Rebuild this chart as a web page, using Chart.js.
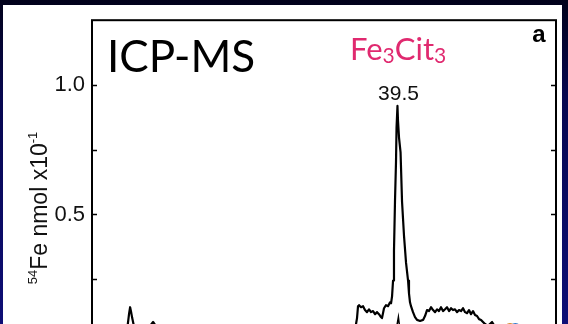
<!DOCTYPE html>
<html>
<head>
<meta charset="utf-8">
<script src="https://cdn.jsdelivr.net/npm/chart.js@4/dist/chart.umd.min.js"></script>
<style>
  html, body { margin: 0; padding: 0; width: 568px; height: 324px; overflow: hidden; }
  body { background: linear-gradient(to bottom, #01011a 0%, #070750 30%, #0e0e76 100%); position: relative; }
  #sheet { position: absolute; left: 3px; top: 5px; width: 559px; height: 400px; background: #ffffff; }
  #wrap { position: absolute; left: 0; top: 0; width: 568px; height: 380px; }
</style>
</head>
<body>
<div id="sheet"></div>
<div id="wrap"><canvas id="chart" width="568" height="380"></canvas></div>
<script>
// Elution time (min) and 54Fe signal (nmol x10^-1) for the ICP-MS trace
const traceTime = [
  0, 1.5, 3.0, 4.2, 4.6, 4.8, 4.93, 5.05, 5.2, 5.4, 5.8, 6.5, 7.2, 7.6, 7.9, 8.2, 8.8,
  10, 12, 14, 17, 20, 23, 26, 29, 31, 33,
  34.01, 34.27, 34.40, 34.53, 34.79, 35.05, 35.30, 35.56, 35.82, 36.08, 36.34, 36.60,
  36.86, 37.11, 37.37, 37.50, 37.76, 38.02, 38.28, 38.54, 38.67, 38.80, 38.93, 39.05,
  39.18, 39.31, 39.38, 39.5, 39.57, 39.70, 39.90, 40.09, 40.35, 40.61, 40.87, 40.99,
  41.12, 41.25, 41.51, 41.77, 42.03, 42.42, 42.81, 43.06, 43.32, 43.58, 43.84, 44.10,
  44.36, 44.62, 44.87, 45.13, 45.39, 45.65, 45.91, 46.17, 46.43, 46.68, 46.94, 47.20,
  47.46, 47.72, 47.98, 48.24, 48.50, 48.75, 49.01, 49.27, 49.53, 49.79, 50.05, 50.31,
  50.56, 50.82, 51.21, 51.73, 52.12, 52.76, 54, 56, 58, 60
];
const traceFe = [
  0.040, 0.042, 0.045, 0.050, 0.070, 0.118, 0.142, 0.125, 0.100, 0.072, 0.060, 0.058, 0.064, 0.074, 0.085, 0.072, 0.062,
  0.055, 0.050, 0.052, 0.048, 0.050, 0.047, 0.049, 0.046, 0.048, 0.050,
  0.054, 0.100, 0.146, 0.150, 0.142, 0.146, 0.131, 0.123, 0.134, 0.123, 0.127, 0.115,
  0.123, 0.115, 0.104, 0.100, 0.138, 0.150, 0.146, 0.161, 0.157, 0.184, 0.245, 0.359,
  0.550, 0.702, 0.835, 0.919, 0.862, 0.797, 0.740, 0.550, 0.416, 0.313, 0.245, 0.195,
  0.161, 0.146, 0.123, 0.104, 0.093, 0.089, 0.093, 0.108, 0.131, 0.127, 0.142, 0.131,
  0.123, 0.134, 0.127, 0.142, 0.127, 0.134, 0.142, 0.127, 0.138, 0.131, 0.134, 0.123,
  0.131, 0.127, 0.138, 0.123, 0.119, 0.131, 0.115, 0.127, 0.112, 0.108, 0.096, 0.093,
  0.085, 0.077, 0.070, 0.085, 0.066, 0.054, 0.048, 0.045, 0.044, 0.043
];
// Second, weaker trace whose apex just reaches the lower edge
const secondTime = [36.0, 38.5, 39.2, 39.45, 39.62, 39.8, 40.2, 41.0, 44.0];
const secondFe   = [0.020, 0.025, 0.040, 0.075, 0.104, 0.060, 0.035, 0.025, 0.020];
// Coloured markers near the bottom right
const markerTime = [54.05, 54.75];
const markerFe   = [0.058, 0.058];
const markerColors = ['#d8892c', '#2f78c8'];

// Axis settings
const yMin = 0, yMax = 1.25, yStep = 0.25;
const yLabelled = [0.5, 1.0];
const xMin = 0, xMax = 60;
const peakTime = 39.5;
const peakLabel = '39.5';

const toXY = (ts, vs) => ts.map((t, i) => ({ x: t, y: vs[i] }));
const peakValue = traceFe[traceTime.indexOf(peakTime)];

const sansFont = '"Liberation Sans", Arial, Helvetica, sans-serif';
const gillFont = 'Lato, "Open Sans", sans-serif';

// Frame, inward tick marks and all annotation text
const decorations = {
  id: 'decorations',
  afterDraw(chart) {
    const { ctx, chartArea: a, scales: { x, y } } = chart;
    ctx.save();
    // frame
    ctx.strokeStyle = '#000';
    ctx.lineWidth = 2;
    ctx.strokeRect(a.left, a.top, a.right - a.left, a.bottom - a.top);
    // inward ticks on both sides
    ctx.lineWidth = 1.5;
    for (let v = yMin + yStep; v < yMax - 1e-9; v += yStep) {
      const py = Math.round(y.getPixelForValue(v)) + 0.5;
      ctx.beginPath();
      ctx.moveTo(a.left, py); ctx.lineTo(a.left + 5, py);
      ctx.moveTo(a.right, py); ctx.lineTo(a.right - 5, py);
      ctx.stroke();
    }

    // y axis title: 54Fe nmol x10-1, rotated
    const titleParts = [
      { t: '54', size: 13, rise: 10 },
      { t: 'Fe nmol x10', size: 23, rise: 0 },
      { t: '-1', size: 13, rise: 10 }
    ];
    let total = 0;
    titleParts.forEach(p => { ctx.font = p.size + 'px ' + sansFont; p.w = ctx.measureText(p.t).width; total += p.w; });
    ctx.translate(47, 208);
    ctx.rotate(-Math.PI / 2);
    ctx.fillStyle = '#111';
    ctx.textBaseline = 'alphabetic';
    ctx.textAlign = 'left';
    let cx = -total / 2;
    titleParts.forEach(p => {
      ctx.font = p.size + 'px ' + sansFont;
      ctx.fillText(p.t, cx, -p.rise);
      cx += p.w;
    });
    ctx.setTransform(1, 0, 0, 1, 0, 0);

    // ICP-MS
    ctx.fillStyle = '#000';
    ctx.font = '44px ' + gillFont;
    ctx.textAlign = 'left';
    ctx.fillText('ICP-MS', 107, 72);

    // Fe3Cit3 with subscripts
    const formula = [
      { t: 'Fe', size: 31, drop: 0 },
      { t: '3', size: 21, drop: 3 },
      { t: 'Cit', size: 31, drop: 0 },
      { t: '3', size: 21, drop: 3 }
    ];
    ctx.fillStyle = '#e0296f';
    let fx = 350;
    formula.forEach(p => {
      ctx.font = p.size + 'px ' + gillFont;
      ctx.fillText(p.t, fx, 60 + p.drop);
      fx += ctx.measureText(p.t).width;
    });

    // peak label
    ctx.fillStyle = '#111';
    ctx.font = '21px ' + sansFont;
    ctx.textAlign = 'center';
    ctx.fillText(peakLabel, x.getPixelForValue(peakTime) + 1, y.getPixelForValue(peakValue) - 6);

    // panel letter
    ctx.fillStyle = '#000';
    ctx.font = 'bold 24px ' + sansFont;
    ctx.fillText('a', 539, 42);
    ctx.restore();
  }
};

new Chart(document.getElementById('chart'), {
  type: 'scatter',
  data: {
    datasets: [
      {
        data: toXY(traceTime, traceFe),
        showLine: true,
        borderColor: '#000',
        borderWidth: 2.2,
        pointRadius: 0,
        tension: 0,
        borderJoinStyle: 'round'
      },
      {
        data: toXY(secondTime, secondFe),
        showLine: true,
        borderColor: '#000',
        borderWidth: 1.5,
        pointRadius: 0,
        tension: 0
      },
      {
        data: toXY(markerTime, markerFe),
        showLine: false,
        pointRadius: 6,
        pointBackgroundColor: markerColors,
        pointBorderWidth: 0
      }
    ]
  },
  options: {
    responsive: false,
    animation: false,
    events: [],
    layout: { padding: { left: 0, right: 12, top: 16, bottom: 36 } },
    plugins: { legend: { display: false }, tooltip: { enabled: false } },
    scales: {
      x: { type: 'linear', min: xMin, max: xMax, display: false },
      y: {
        type: 'linear', min: yMin, max: yMax,
        grid: { display: false, drawTicks: false },
        border: { display: false },
        afterFit(scale) { scale.width = 92; },
        ticks: {
          stepSize: yStep,
          padding: 7,
          color: '#111',
          font: { family: sansFont, size: 22 },
          callback: (v) => yLabelled.some(l => Math.abs(l - v) < 1e-9) ? v.toFixed(1) : ''
        }
      }
    }
  },
  plugins: [decorations]
});
</script>
</body>
</html>
